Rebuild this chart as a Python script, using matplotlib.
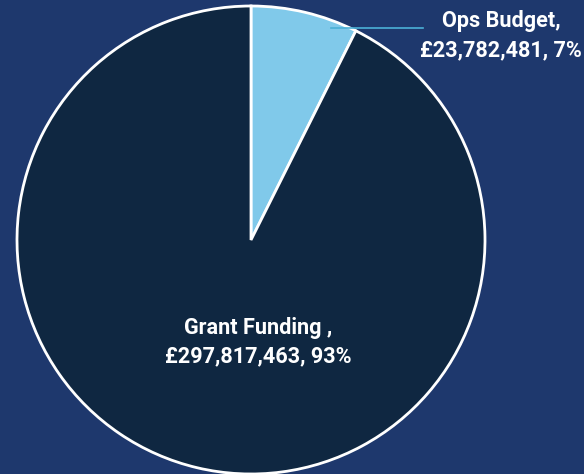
import matplotlib
matplotlib.use("Agg")
import matplotlib.pyplot as plt

categories = ["Ops Budget", "Grant Funding "]
values = [23782481, 297817463]
percents = ["7%", "93%"]
colors = ["#80c9ea", "#0f2741"]
bg = "#1e386d"

W, H = 584, 474
fig = plt.figure(figsize=(W / 100, H / 100), dpi=100, facecolor=bg)
ax = fig.add_axes([0, 0, 1, 1])
ax.set_facecolor(bg)

cx, cy, r = 251, H - 240, 234
ax.pie(values, colors=colors, startangle=90, counterclock=False,
       center=(cx, cy), radius=r, frame=True,
       wedgeprops=dict(edgecolor="white", linewidth=2))
ax.set_xlim(0, W)
ax.set_ylim(0, H)
ax.set_aspect("equal")
ax.axis("off")

font = dict(family=["Roboto", "DejaVu Sans"], weight="bold", color="white", fontsize=15.6)

def lab(i):
    return f"{categories[i]},\n£{values[i]:,}, {percents[i]}"

ax.plot([331, 423], [H - 28, H - 28], color="#4bb0d6", lw=1.2)
ax.text(501, H - 36, lab(0), ha="center", va="center", linespacing=1.42, **font)
ax.text(258, H - 342, lab(1), ha="center", va="center", linespacing=1.35, **font)

fig.savefig("out.png", dpi=100, facecolor=bg)
